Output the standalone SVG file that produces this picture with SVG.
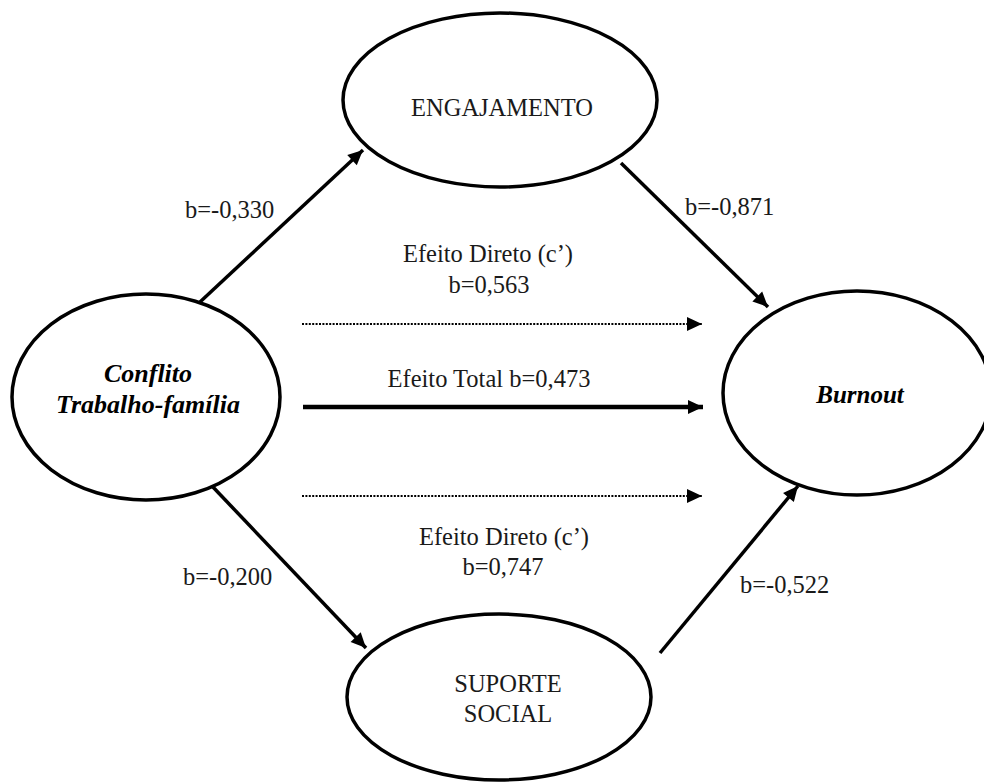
<svg xmlns="http://www.w3.org/2000/svg" width="984" height="783" viewBox="0 0 984 783">
<style>
text{font-family:'Liberation Serif','Times New Roman',Times,'DejaVu Serif',serif}
.t{font-size:24.5px;fill:#1a1a1a;text-anchor:middle}
.l{font-size:24.5px;fill:#1a1a1a}
.bi{font-weight:bold;font-style:italic;fill:#000;text-anchor:middle}
.node{fill:#fff;stroke:#000;stroke-width:3.5}
.a{stroke:#000;stroke-width:3.5;fill:none;marker-end:url(#ah)}
.tot{stroke:#000;stroke-width:4.5;fill:none;marker-end:url(#ah)}
.dot{stroke:#000;stroke-width:2;stroke-dasharray:2 1.4;fill:none;marker-end:url(#ah)}
</style>
<defs>
<marker id="ah" markerUnits="userSpaceOnUse" markerWidth="20" markerHeight="20" viewBox="0 0 20 20" refX="18" refY="10" orient="auto">
<path d="M3,3 L18,10 L3,17 Z" fill="#000"/>
</marker>
</defs>
<rect width="984" height="783" fill="#fff"/>
<g id="connectors">
<line class="a" x1="200" y1="302" x2="363" y2="150"/>
<line class="a" x1="621" y1="163" x2="768" y2="307"/>
<line class="a" x1="212" y1="486" x2="366" y2="648"/>
<line class="a" x1="660" y1="653" x2="798" y2="486"/>
<line class="dot" x1="302" y1="324" x2="702" y2="324"/>
<line class="tot" x1="303" y1="407" x2="703" y2="407"/>
<line class="dot" x1="302" y1="496" x2="702" y2="496"/>
</g>
<g id="labels">
<text class="l" x="185" y="218" font-family="Liberation Serif, Times New Roman, DejaVu Serif, serif">b=-0,330</text>
<text class="l" x="685" y="215" font-family="Liberation Serif, Times New Roman, DejaVu Serif, serif">b=-0,871</text>
<text class="t" x="488" y="262" font-family="Liberation Serif, Times New Roman, DejaVu Serif, serif">Efeito Direto (c’)</text>
<text class="t" x="489" y="293" font-family="Liberation Serif, Times New Roman, DejaVu Serif, serif">b=0,563</text>
<text class="t" x="489" y="387" font-family="Liberation Serif, Times New Roman, DejaVu Serif, serif">Efeito Total b=0,473</text>
<text class="t" x="504" y="545" font-family="Liberation Serif, Times New Roman, DejaVu Serif, serif">Efeito Direto (c’)</text>
<text class="t" x="503" y="575" font-family="Liberation Serif, Times New Roman, DejaVu Serif, serif">b=0,747</text>
<text class="l" x="183" y="585" font-family="Liberation Serif, Times New Roman, DejaVu Serif, serif">b=-0,200</text>
<text class="l" x="740" y="593" font-family="Liberation Serif, Times New Roman, DejaVu Serif, serif">b=-0,522</text>
</g>
<g id="node-engajamento">
<ellipse class="node" cx="500" cy="100" rx="157" ry="87"/>
<text class="t" x="502" y="116" font-family="Liberation Serif, Times New Roman, DejaVu Serif, serif">ENGAJAMENTO</text>
</g>
<g id="node-conflito">
<ellipse class="node" cx="146" cy="397" rx="134" ry="103"/>
<text class="bi" x="148" y="382" font-size="26" font-family="Liberation Serif, Times New Roman, DejaVu Serif, serif">Conflito</text>
<text class="bi" x="148" y="413" font-size="26" font-family="Liberation Serif, Times New Roman, DejaVu Serif, serif">Trabalho-família</text>
</g>
<g id="node-burnout">
<ellipse class="node" cx="857" cy="393" rx="134" ry="102"/>
<text class="bi" x="860" y="403" font-size="25" font-family="Liberation Serif, Times New Roman, DejaVu Serif, serif">Burnout</text>
</g>
<g id="node-suporte">
<ellipse class="node" cx="499" cy="697" rx="152" ry="83"/>
<text class="t" x="508" y="692" font-family="Liberation Serif, Times New Roman, DejaVu Serif, serif">SUPORTE</text>
<text class="t" x="508" y="722" font-family="Liberation Serif, Times New Roman, DejaVu Serif, serif">SOCIAL</text>
</g>
</svg>
